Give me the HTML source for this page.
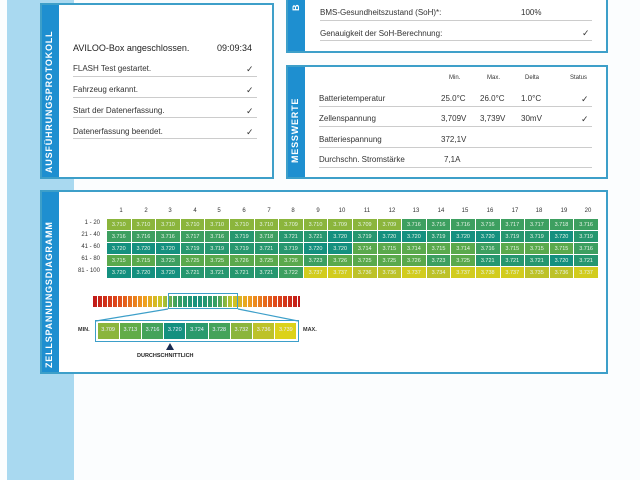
<!DOCTYPE html>
<html><head><meta charset="utf-8"><style>
*{margin:0;padding:0;box-sizing:border-box}
body{width:640px;height:480px;background:#fbfdfe;font-family:"Liberation Sans",sans-serif;color:#333;position:relative;overflow:hidden}
.a{position:absolute;white-space:nowrap}
.strip{position:absolute;left:7px;top:0;width:67px;height:480px;background:#a9d9f0}
.panel{position:absolute;background:#fff;border:2px solid #3d9fc9}
.lab{position:absolute;left:0;top:0;bottom:0;width:17px;background:#1e8fd0}
.vt{position:absolute;color:#fff;font-weight:bold;font-size:9px;letter-spacing:0.8px;transform:rotate(-90deg);transform-origin:left top;white-space:nowrap}
.t{font-size:8px;color:#333}
.hl{position:absolute;height:1px;background:#ccc}
.ck{font-size:9px;color:#333}
table{border-collapse:collapse;position:absolute;left:106px;top:218px}
td{width:24.6px;height:12px;font-size:5.5px;color:#e8f4e8;text-align:center;border:1px solid #fff;padding:0}
.c0{background:#14907f}.c1{background:#26976f}.c2{background:#3d9f60}.c3{background:#5aa94c}.c4{background:#8bb53c}.c5{background:#bdc229}.c6{background:#d2cc1e}
.rl{position:absolute;font-size:6px;color:#333;width:40px;text-align:right}
.ch{position:absolute;font-size:6px;color:#333;top:208px;width:20px;text-align:center}
</style></head><body>
<div class="strip"></div>

<!-- panel 1 -->
<div class="panel" style="left:40px;top:3px;width:234px;height:176px">
<div class="lab"></div>
<div class="vt" style="left:2px;top:168px">AUSFÜHRUNGSPROTOKOLL</div>
</div>
<div class="a" style="left:73px;top:43px;font-size:9px;color:#222">AVILOO-Box angeschlossen.</div>
<div class="a" style="left:217px;top:43px;font-size:9px;color:#222">09:09:34</div>
<div class="a t" style="left:73px;top:64px">FLASH Test gestartet.</div><div class="a ck" style="left:246px;top:64px">✓</div><div class="hl" style="left:73px;top:76px;width:184px"></div>
<div class="a t" style="left:73px;top:85px">Fahrzeug erkannt.</div><div class="a ck" style="left:246px;top:85px">✓</div><div class="hl" style="left:73px;top:97px;width:184px"></div>
<div class="a t" style="left:73px;top:106px">Start der Datenerfassung.</div><div class="a ck" style="left:246px;top:106px">✓</div><div class="hl" style="left:73px;top:117px;width:184px"></div>
<div class="a t" style="left:73px;top:127px">Datenerfassung beendet.</div><div class="a ck" style="left:246px;top:127px">✓</div><div class="hl" style="left:73px;top:138px;width:184px"></div>

<!-- panel B -->
<div class="panel" style="left:286px;top:-10px;width:322px;height:63px">
<div class="lab"></div>
<div class="vt" style="left:3px;top:19px">B</div>
</div>
<div class="a t" style="left:320px;top:8px">BMS-Gesundheitszustand (SoH)*:</div>
<div class="a t" style="left:521px;top:8px">100%</div>
<div class="hl" style="left:320px;top:20px;width:272px"></div>
<div class="a t" style="left:320px;top:29px">Genauigkeit der SoH-Berechnung:</div><div class="a ck" style="left:582px;top:28px">✓</div>
<div class="hl" style="left:320px;top:40px;width:272px"></div>

<!-- Messwerte -->
<div class="panel" style="left:286px;top:65px;width:322px;height:114px">
<div class="lab"></div>
<div class="vt" style="left:2px;top:96px">MESSWERTE</div>
</div>
<div class="a" style="font-size:6px;left:449px;top:75px">Min.</div>
<div class="a" style="font-size:6px;left:487px;top:75px">Max.</div>
<div class="a" style="font-size:6px;left:525px;top:75px">Delta</div>
<div class="a" style="font-size:6px;left:570px;top:75px">Status</div>
<div class="a t" style="left:319px;top:94px">Batterietemperatur</div><div class="a t" style="left:441px;top:94px">25.0°C</div><div class="a t" style="left:480px;top:94px">26.0°C</div><div class="a t" style="left:521px;top:94px">1.0°C</div><div class="a ck" style="left:581px;top:94px">✓</div>
<div class="hl" style="left:319px;top:106px;width:273px"></div>
<div class="a t" style="left:319px;top:114px">Zellenspannung</div><div class="a t" style="left:441px;top:114px">3,709V</div><div class="a t" style="left:480px;top:114px">3,739V</div><div class="a t" style="left:521px;top:114px">30mV</div><div class="a ck" style="left:581px;top:114px">✓</div>
<div class="hl" style="left:319px;top:126px;width:273px"></div>
<div class="a t" style="left:319px;top:135px">Batteriespannung</div><div class="a t" style="left:441px;top:135px">372,1V</div>
<div class="hl" style="left:319px;top:147px;width:273px"></div>
<div class="a t" style="left:319px;top:155px">Durchschn. Stromstärke</div><div class="a t" style="left:444px;top:155px">7,1A</div>
<div class="hl" style="left:319px;top:167px;width:273px"></div>

<!-- Zellspannung -->
<div class="panel" style="left:40px;top:190px;width:568px;height:184px">
<div class="lab"></div>
<div class="vt" style="left:2px;top:176px">ZELLSPANNUNGSDIAGRAMM</div>
</div>
<div class="ch" style="left:111px">1</div><div class="ch" style="left:136px">2</div><div class="ch" style="left:160px">3</div><div class="ch" style="left:185px">4</div><div class="ch" style="left:209px">5</div><div class="ch" style="left:234px">6</div><div class="ch" style="left:259px">7</div><div class="ch" style="left:283px">8</div><div class="ch" style="left:308px">9</div><div class="ch" style="left:332px">10</div><div class="ch" style="left:357px">11</div><div class="ch" style="left:382px">12</div><div class="ch" style="left:406px">13</div><div class="ch" style="left:431px">14</div><div class="ch" style="left:455px">15</div><div class="ch" style="left:480px">16</div><div class="ch" style="left:505px">17</div><div class="ch" style="left:529px">18</div><div class="ch" style="left:554px">19</div><div class="ch" style="left:578px">20</div>
<div class="rl" style="left:60px;top:220px">1 - 20</div>
<div class="rl" style="left:60px;top:232px">21 - 40</div>
<div class="rl" style="left:60px;top:244px">41 - 60</div>
<div class="rl" style="left:60px;top:256px">61 - 80</div>
<div class="rl" style="left:60px;top:268px">81 - 100</div>
<table>
<tr><td class="c4">3.710</td><td class="c4">3.710</td><td class="c4">3.710</td><td class="c4">3.710</td><td class="c4">3.710</td><td class="c4">3.710</td><td class="c4">3.710</td><td class="c4">3.709</td><td class="c4">3.710</td><td class="c4">3.709</td><td class="c4">3.709</td><td class="c4">3.709</td><td class="c2">3.716</td><td class="c2">3.716</td><td class="c2">3.716</td><td class="c2">3.716</td><td class="c2">3.717</td><td class="c2">3.717</td><td class="c2">3.718</td><td class="c2">3.716</td></tr>
<tr><td class="c2">3.716</td><td class="c2">3.716</td><td class="c2">3.716</td><td class="c2">3.717</td><td class="c2">3.716</td><td class="c1">3.719</td><td class="c2">3.718</td><td class="c1">3.721</td><td class="c1">3.721</td><td class="c0">3.720</td><td class="c1">3.719</td><td class="c0">3.720</td><td class="c0">3.720</td><td class="c1">3.719</td><td class="c0">3.720</td><td class="c0">3.720</td><td class="c1">3.719</td><td class="c1">3.719</td><td class="c0">3.720</td><td class="c1">3.719</td></tr>
<tr><td class="c0">3.720</td><td class="c0">3.720</td><td class="c0">3.720</td><td class="c1">3.719</td><td class="c1">3.719</td><td class="c1">3.719</td><td class="c1">3.721</td><td class="c1">3.719</td><td class="c0">3.720</td><td class="c0">3.720</td><td class="c3">3.714</td><td class="c3">3.715</td><td class="c3">3.714</td><td class="c3">3.715</td><td class="c3">3.714</td><td class="c2">3.716</td><td class="c3">3.715</td><td class="c3">3.715</td><td class="c3">3.715</td><td class="c2">3.716</td></tr>
<tr><td class="c3">3.715</td><td class="c3">3.715</td><td class="c2">3.723</td><td class="c3">3.725</td><td class="c3">3.725</td><td class="c3">3.726</td><td class="c3">3.725</td><td class="c3">3.726</td><td class="c2">3.723</td><td class="c3">3.726</td><td class="c3">3.725</td><td class="c3">3.725</td><td class="c3">3.726</td><td class="c2">3.723</td><td class="c3">3.725</td><td class="c1">3.721</td><td class="c1">3.721</td><td class="c1">3.721</td><td class="c0">3.720</td><td class="c1">3.721</td></tr>
<tr><td class="c0">3.720</td><td class="c0">3.720</td><td class="c0">3.720</td><td class="c1">3.721</td><td class="c1">3.721</td><td class="c1">3.721</td><td class="c1">3.721</td><td class="c2">3.722</td><td class="c6">3.737</td><td class="c6">3.737</td><td class="c5">3.736</td><td class="c5">3.736</td><td class="c6">3.737</td><td class="c5">3.734</td><td class="c6">3.737</td><td class="c6">3.738</td><td class="c6">3.737</td><td class="c5">3.735</td><td class="c5">3.736</td><td class="c6">3.737</td></tr>
</table>

<!-- gradient bar -->
<div class="a" style="left:93px;top:296px;width:207px;height:11px;background:linear-gradient(90deg,#c01818 0%,#e04a1a 12%,#f0a020 25%,#c8c828 33%,#3aa060 40%,#14907f 50%,#3aa060 60%,#c8c828 67%,#f0a020 75%,#e04a1a 88%,#c01818 100%)"></div>
<div class="a" style="left:93px;top:296px;width:207px;height:11px;background:repeating-linear-gradient(90deg,transparent 0,transparent 4px,#fff 4px,#fff 5px)"></div>
<div class="a" style="left:168px;top:293px;width:70px;height:16px;border:1.5px solid #3d9fc9"></div>
<svg class="a" style="left:0;top:0" width="640" height="480"><line x1="168" y1="309" x2="96" y2="321" stroke="#3d9fc9" stroke-width="1.2"/><line x1="238" y1="309" x2="298" y2="321" stroke="#3d9fc9" stroke-width="1.2"/><polygon points="170,343 166,350 174,350" fill="#1a2a50"/></svg>
<div class="a" style="left:95px;top:320px;width:204px;height:22px;border:1.5px solid #3d9fc9;display:flex;padding:2px">
<div style="flex:1;background:#8bb53c;border-right:1px solid #fff"></div><div style="flex:1;background:#62ac48;border-right:1px solid #fff"></div><div style="flex:1;background:#45a35a;border-right:1px solid #fff"></div><div style="flex:1;background:#14907f;border-right:1px solid #fff"></div><div style="flex:1;background:#2a9a6c;border-right:1px solid #fff"></div><div style="flex:1;background:#45a35a;border-right:1px solid #fff"></div><div style="flex:1;background:#8bb53c;border-right:1px solid #fff"></div><div style="flex:1;background:#bdc229;border-right:1px solid #fff"></div><div style="flex:1;background:#dcd21a"></div>
</div>
<div class="a" style="left:97px;top:327px;width:200px;display:flex;font-size:5.5px;color:#eef"><span style="flex:1;text-align:center">3.709</span><span style="flex:1;text-align:center">3.713</span><span style="flex:1;text-align:center">3.716</span><span style="flex:1;text-align:center">3.720</span><span style="flex:1;text-align:center">3.724</span><span style="flex:1;text-align:center">3.728</span><span style="flex:1;text-align:center">3.732</span><span style="flex:1;text-align:center">3.736</span><span style="flex:1;text-align:center">3.739</span></div>
<div class="a" style="left:78px;top:327px;font-size:5.5px;font-weight:bold">MIN.</div>
<div class="a" style="left:303px;top:327px;font-size:5.5px;font-weight:bold">MAX.</div>
<div class="a" style="left:137px;top:353px;font-size:5.5px;font-weight:bold;color:#222">DURCHSCHNITTLICH</div>
</body></html>
